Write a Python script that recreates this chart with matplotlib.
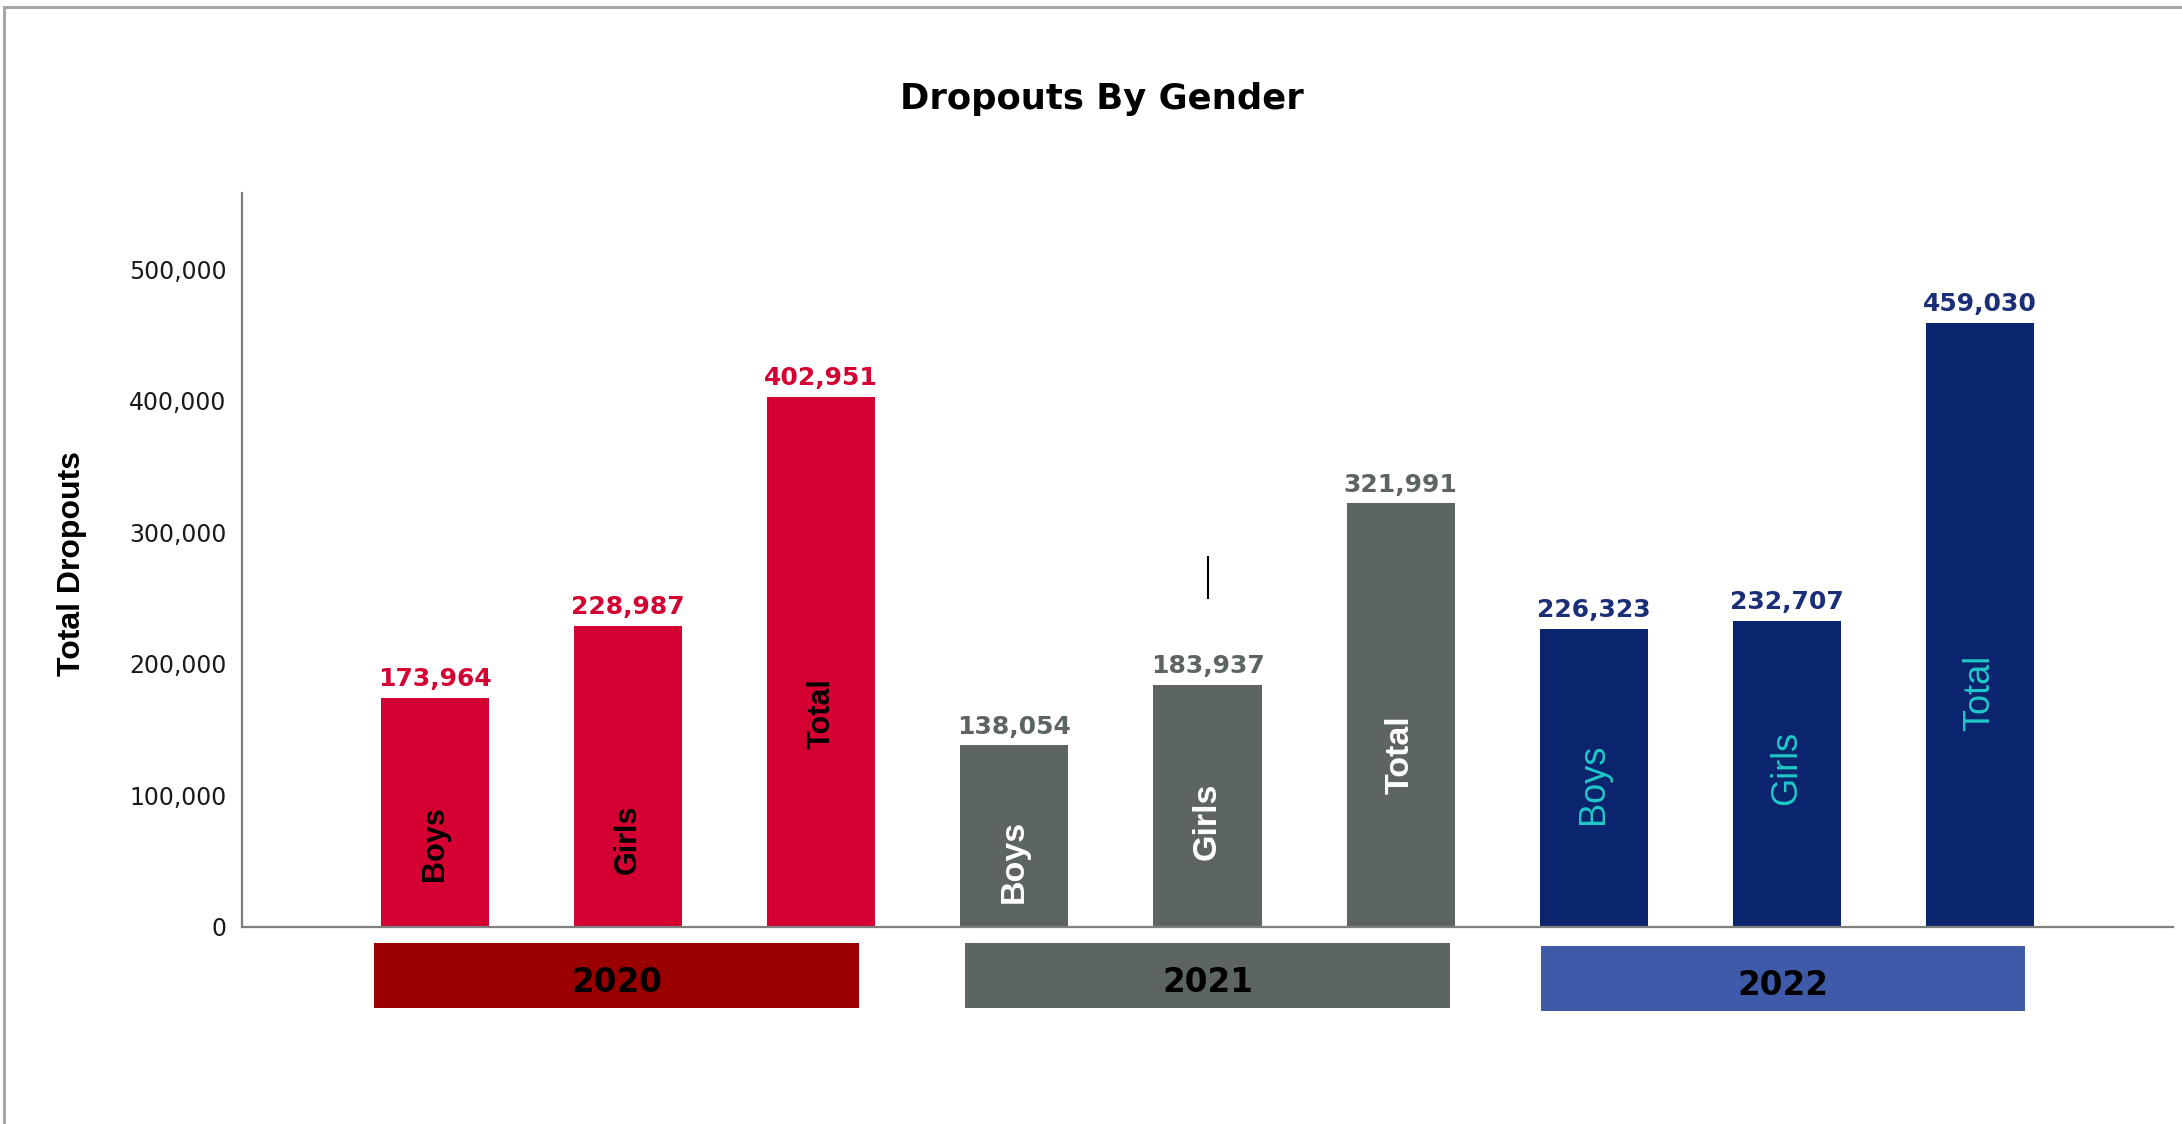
import matplotlib
matplotlib.use('Agg')
import matplotlib.pyplot as plt
import matplotlib.transforms as mtransforms
from matplotlib.lines import Line2D
from matplotlib.patches import Rectangle
from matplotlib.ticker import FuncFormatter
import numpy as np

# ---------------- data ----------------
years = ['2020', '2021', '2022']
categories = ['Boys', 'Girls', 'Total']
dropouts_2020 = [173964, 228987, 402951]
dropouts_2021 = [138054, 183937, 321991]
dropouts_2022 = [226323, 232707, 459030]
yticks = [0, 100000, 200000, 300000, 400000, 500000]
title = 'Dropouts By Gender'
ylabel = 'Total Dropouts'

# ---------------- style ----------------
bar_colors = ['#D50032', '#5C655F', '#0A246E']
value_colors = ['#D50032', '#5C655F', '#1B2F78']
inner_colors = ['black', 'white', '#1FC8C8']
inner_weights = ['bold', 'bold', 'normal']
inner_sizes = [22, 24.5, 26]
box_colors = ['#9B0000', '#5C655F', '#3F5AA8']
# vertical placement of the rotated in-bar labels (data units)
inner_label_y = [[63300, 66500, 162400],
                 [49600, 80200, 130800],
                 [108600, 121300, 178300]]
box_centers_offset = [-0.06, 0.0, -0.02]
box_y = [(-0.1104, -0.0218), (-0.1104, -0.0218), (-0.1144, -0.0259)]
year_text_y = [-0.088, -0.088, -0.092]

W, H = 2182, 1124
fig = plt.figure(figsize=(W / 100, H / 100), dpi=100)
fig.patch.set_facecolor('white')

left, right, bottom, top = 242 / W, 2173 / W, 1 - 927 / H, 1 - 193 / H
ax = fig.add_axes([left, bottom, right - left, top - bottom])

series = [dropouts_2020, dropouts_2021, dropouts_2022]
ncat = len(categories)
for g, vals in enumerate(series):
    x = g * ncat + np.arange(ncat)
    ax.bar(x, vals, width=0.56, color=bar_colors[g], edgecolor='none', zorder=2)
    for i, (xi, v) in enumerate(zip(x, vals)):
        ax.annotate(f'{v:,}', (xi, v), xytext=(0, 8.5), textcoords='offset points',
                    ha='center', va='baseline', fontsize=18, fontweight='bold',
                    color=value_colors[g], family='DejaVu Sans', zorder=3)
        ax.text(xi, inner_label_y[g][i], categories[i], rotation=90,
                ha='center', va='center', fontsize=inner_sizes[g],
                fontweight=inner_weights[g], color=inner_colors[g],
                family=['Liberation Sans', 'DejaVu Sans'], zorder=3)

# stray mark present in the original
ax.plot([4, 4], [250200, 281400], color='black', lw=1.5, zorder=3)

ax.set_xlim(-1, 9)
ax.set_ylim(0, 558000)
ax.set_xticks([])
ax.set_yticks(yticks)
ax.yaxis.set_major_formatter(FuncFormatter(lambda v, p: f'{int(v):,}'))
ax.tick_params(axis='y', length=0, pad=11, labelsize=17, labelcolor='#1a1a1a')
for lab in ax.get_yticklabels():
    lab.set_family('DejaVu Sans')
for s in ['top', 'right']:
    ax.spines[s].set_visible(False)
for s in ['left', 'bottom']:
    ax.spines[s].set_color('#7F7F7F')
    ax.spines[s].set_linewidth(1.6)

# year boxes below the axis
trans = mtransforms.blended_transform_factory(ax.transData, ax.transAxes)
box_w = 2.51
for g, yr in enumerate(years):
    cx = g * ncat + (ncat - 1) / 2 + box_centers_offset[g]
    y0, y1 = box_y[g]
    ax.add_patch(Rectangle((cx - box_w / 2, y0), box_w, y1 - y0, transform=trans,
                           facecolor=box_colors[g], edgecolor='none', clip_on=False))
    ax.text(cx, year_text_y[g], yr, transform=trans, ha='center', va='baseline',
            fontsize=23.5, fontweight='bold', color='black', family='DejaVu Sans')

fig.text(1102 / W, 1 - 109 / H, title, ha='center', va='baseline',
         fontsize=25.5, fontweight='bold', family='DejaVu Sans', color='black')
fig.text(72 / W, 1 - 563 / H, ylabel, rotation=90, ha='center', va='center',
         fontsize=23, fontweight='bold', family=['Liberation Sans', 'DejaVu Sans'],
         color='black')

# outer frame (top and left edges)
fig.add_artist(Line2D([4 / W, 1], [1 - 7 / H, 1 - 7 / H], transform=fig.transFigure,
                      color='#A6A6A6', lw=2.2))
fig.add_artist(Line2D([4 / W, 4 / W], [0, 1 - 7 / H], transform=fig.transFigure,
                      color='#A6A6A6', lw=2.2))

fig.savefig('out.png', dpi=100, facecolor='white')
